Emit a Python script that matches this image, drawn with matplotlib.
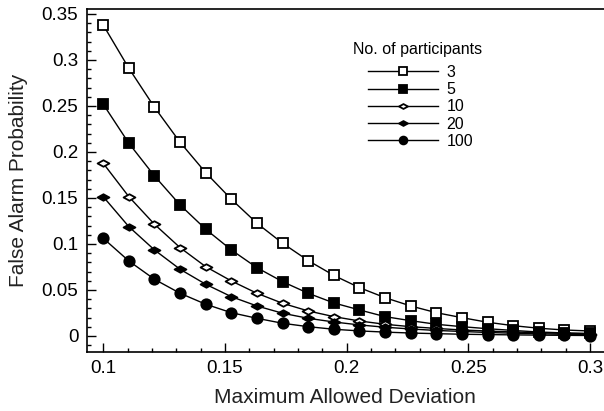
import matplotlib
matplotlib.use("Agg")
import matplotlib.pyplot as plt
import numpy as np
from matplotlib.path import Path
from matplotlib.ticker import MultipleLocator

plt.rcParams['font.family'] = ['Liberation Sans', 'DejaVu Sans']

# maximum allowed deviation (x) and false alarm probability per group size
deviation = np.linspace(0.1, 0.3, 20)
participants = ["3", "5", "10", "20", "100"]
p3 = [0.338, 0.291, 0.2486, 0.2105, 0.1775, 0.1486, 0.1225, 0.1008, 0.0819, 0.0658,
      0.0525, 0.0416, 0.0326, 0.0253, 0.0199, 0.0149, 0.0112, 0.0084, 0.0065, 0.0054]
p5 = [0.2519, 0.2095, 0.1739, 0.1424, 0.116, 0.0935, 0.0742, 0.059, 0.0464, 0.0359,
      0.0283, 0.021, 0.0166, 0.0127, 0.0101, 0.0079, 0.006, 0.0043, 0.0033, 0.0027]
p10 = [0.1877, 0.1514, 0.1214, 0.096, 0.0753, 0.0598, 0.0464, 0.0355, 0.0272, 0.021,
       0.0163, 0.0127, 0.0101, 0.0082, 0.0065, 0.0054, 0.0043, 0.0036, 0.0029, 0.0024]
p20 = [0.1514, 0.1188, 0.0935, 0.0725, 0.0562, 0.0427, 0.0326, 0.0247, 0.0192, 0.0152,
       0.012, 0.0095, 0.0076, 0.006, 0.0049, 0.0038, 0.003, 0.0024, 0.0018, 0.0014]
p100 = [0.1062, 0.0815, 0.0616, 0.0464, 0.0345, 0.0253, 0.0192, 0.0138, 0.0101, 0.0073,
        0.0055, 0.0042, 0.0032, 0.0025, 0.0019, 0.0015, 0.0012, 0.0009, 0.0007, 0.0005]

# flattened diamond marker
flat_diamond = Path([(-1, 0), (0, 0.55), (1, 0), (0, -0.55), (-1, 0)],
                    [Path.MOVETO, Path.LINETO, Path.LINETO, Path.LINETO, Path.CLOSEPOLY])

styles = [
    dict(marker="s", mfc="white", ms=7.5),
    dict(marker="s", mfc="black", ms=7.5),
    dict(marker=flat_diamond, mfc="white", ms=8.5),
    dict(marker=flat_diamond, mfc="black", ms=8.5),
    dict(marker="o", mfc="black", ms=7.5),
]

fig = plt.figure(figsize=(6.04, 4.11), dpi=100)
ax = fig.add_axes([0.1435, 0.1436, 0.8565, 0.8345])

for vals, lab, st in zip([p3, p5, p10, p20, p100], participants, styles):
    ax.plot(deviation, vals, color="black", lw=1.0, mec="black", mew=1.3,
            label=lab, **st)

ax.set_xlim(0.0932, 0.3057)
ax.set_ylim(-0.0174, 0.3554)
ax.xaxis.set_minor_locator(MultipleLocator(0.01))
ax.yaxis.set_minor_locator(MultipleLocator(0.01))
ax.set_xticks([0.1, 0.15, 0.2, 0.25, 0.3])
ax.set_xticklabels(["0.1", "0.15", "0.2", "0.25", "0.3"])
ax.set_yticks([0, 0.05, 0.1, 0.15, 0.2, 0.25, 0.3, 0.35])
ax.set_yticklabels(["0", "0.05", "0.1", "0.15", "0.2", "0.25", "0.3", "0.35"])
ax.tick_params(which="both", direction="in", top=False, right=False,
               labelsize=13.5, width=1, color="black")
ax.tick_params(which="major", length=6.5, pad=6)
ax.tick_params(which="minor", length=3)

ax.spines["right"].set_visible(False)
for s in ["left", "bottom", "top"]:
    ax.spines[s].set_linewidth(1.2)

ax.set_xlabel("Maximum Allowed Deviation", fontsize=15, color="#222222", labelpad=8)
ax.set_ylabel("False Alarm Probability", fontsize=15, color="#222222", labelpad=10)

# legend title drawn separately so the gap under it can be set freely
ax.text(0.514, 0.8805, "No. of participants", transform=ax.transAxes,
        fontsize=11.5, ha="left", va="center")
ax.legend(loc="upper left", bbox_to_anchor=(0.5438, 0.837), frameon=False,
          fontsize=11.5, handlelength=4.4, handletextpad=0.5,
          labelspacing=0.14, borderpad=0, borderaxespad=0, markerscale=0.75)

fig.savefig("out.png", dpi=100)
